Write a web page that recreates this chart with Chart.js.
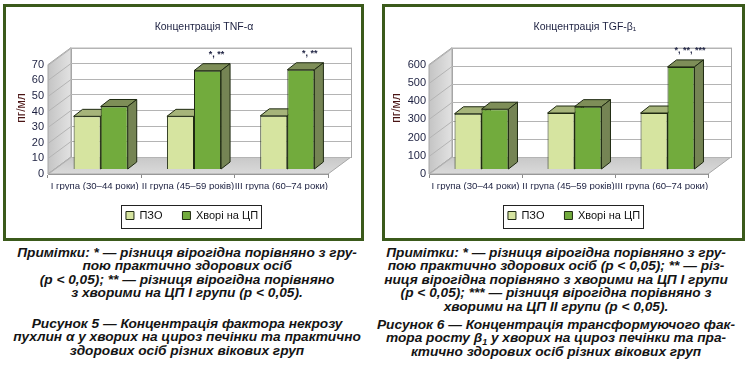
<!DOCTYPE html>
<html lang="uk">
<head>
<meta charset="UTF-8">
<title>Концентрація TNF-α та TGF-β1</title>
<script src="https://cdn.jsdelivr.net/npm/chart.js"></script>
<style>
  html, body { margin: 0; padding: 0; background: #fff; }
  body { width: 747px; height: 378px; position: relative; overflow: hidden; }
  .frame { position: absolute; border: 3px solid #3b5a1b; box-sizing: border-box; }
  #frameA { left: 3px; top: 4px; width: 361px; height: 237px; }
  #frameB { left: 382px; top: 4px; width: 363px; height: 237px; }
  canvas { position: absolute; top: 0; }
  #tnf { left: 0; }
  #tgf { left: 375px; }
  .note {
    position: absolute; margin: 0; text-align: center; color: #141414;
    font: italic bold 13.7px "Liberation Sans", Arial, sans-serif; line-height: 13.4px;
  }
  .note .sub { font-size: 9px; position: relative; top: 3px; line-height: 0; }
  #noteA { left: 8px; width: 358px; top: 246px; }
  #capA { left: 8px; width: 358px; top: 317px; }
  #noteB { left: 376px; width: 360px; top: 246px; }
  #capB { left: 376px; width: 360px; top: 318px; }
</style>
</head>
<body>

<div class="frame" id="frameA"></div>
<div class="frame" id="frameB"></div>
<canvas id="tnf" width="370" height="240"></canvas>
<canvas id="tgf" width="372" height="240"></canvas>

<p class="note" id="noteA">Примітки: * — різниця вірогідна порівняно з гру-<br>пою практично здорових осіб<br>(p &lt; 0,05); ** — різниця вірогідна порівняно<br>з хворими на ЦП I групи (p &lt; 0,05).</p>
<p class="note" id="capA">Рисунок 5 — Концентрація фактора некрозу<br>пухлин α у хворих на цироз печінки та практично<br>здорових осіб різних вікових груп</p>

<p class="note" id="noteB">Примітки: * — різниця вірогідна порівняно з гру-<br>пою практично здорових осіб (p &lt; 0,05); ** — різ-<br>ниця вірогідна порівняно з хворими на ЦП I групи<br>(p &lt; 0,05); *** — різниця вірогідна порівняно з<br>хворими на ЦП II групи (p &lt; 0,05).</p>
<p class="note" id="capB">Рисунок 6 — Концентрація трансформуючого фак-<br>тора росту β<span class="sub">1</span> у хворих на цироз печінки та пра-<br>ктично здорових осіб різних вікових груп</p>

<script>
// age groups
var groups = ['I група (30–44 роки)', 'II група (45–59 років)', 'III група (60–74 роки)'];
var seriesNames = ['ПЗО', 'Хворі на ЦП'];

// TNF-alpha, pg/ml
var tnfHealthy = [33.7, 33.7, 34];
var tnfCirrhosis = [40, 62.9, 63.5];
var tnfMarks = ['', '*, **', '*, **'];

// TGF-beta1, pg/ml
var tgfHealthy = [303, 307, 307];
var tgfCirrhosis = [328, 342, 560];
var tgfMarks = ['', '', '*, **, ***'];

var font = '"Liberation Sans", Arial, sans-serif';
var colors = {
    healthy: { front: '#d6e4a0', top: '#a6b47a', side: '#98a76c' },
    sick: { front: '#72ab3d', top: '#7e8e58', side: '#758454' },
    edge: '#1f2a12'
};

// fake 3D: walls, floor, bar tops and sides
var box3d = {
    id: 'box3d',
    afterLayout: function (chart, args, o) {
        var t = chart.titleBlock, l = chart.legend;
        var s = o.titleX - (t.left + t.right) / 2;
        t.left += s; t.right += s;
        s = o.legendX - (l.left + l.right) / 2;
        l.left += s; l.right += s;
    },
    beforeDatasetsDraw: function (chart, args, o) {
        var ctx = chart.ctx, a = chart.chartArea, y = chart.scales.y;
        var dx = o.dx, dy = o.dy;
        ctx.save();
        // side wall
        var g = ctx.createLinearGradient(a.left, 0, a.left + dx, 0);
        g.addColorStop(0, '#c4c4c4');
        g.addColorStop(1, '#e2e2e2');
        ctx.fillStyle = g;
        ctx.strokeStyle = '#a6a6a6';
        ctx.lineWidth = 1;
        ctx.beginPath();
        ctx.moveTo(a.left, a.top);
        ctx.lineTo(a.left + dx, a.top + dy);
        ctx.lineTo(a.left + dx, a.bottom + dy);
        ctx.lineTo(a.left, a.bottom);
        ctx.closePath();
        ctx.fill();
        ctx.stroke();
        // floor
        g = ctx.createLinearGradient(0, a.bottom + dy, 0, a.bottom);
        g.addColorStop(0, '#c8c8c8');
        g.addColorStop(1, '#dadada');
        ctx.fillStyle = g;
        ctx.beginPath();
        ctx.moveTo(a.left, a.bottom);
        ctx.lineTo(a.right, a.bottom);
        ctx.lineTo(a.right + dx, a.bottom + dy);
        ctx.lineTo(a.left + dx, a.bottom + dy);
        ctx.closePath();
        ctx.fill();
        ctx.stroke();
        // back wall
        ctx.fillStyle = '#fff';
        ctx.fillRect(a.left + dx, a.top + dy, a.right - a.left, a.bottom - a.top);
        ctx.strokeRect(a.left + dx + 0.5, a.top + dy + 0.5, a.right - a.left, a.bottom - a.top);
        // grid lines from the value scale
        ctx.strokeStyle = '#b4b4b4';
        y.ticks.forEach(function (t) {
            var py = Math.round(y.getPixelForValue(t.value)) + 0.5;
            ctx.beginPath();
            ctx.moveTo(a.left, py);
            ctx.lineTo(a.left + dx, py + dy);
            ctx.lineTo(a.right + dx, py + dy);
            ctx.stroke();
        });
        // bars, group by group so the 3D faces overlap right
        ctx.translate(o.barX, o.barY);
        var metas = [chart.getDatasetMeta(0), chart.getDatasetMeta(1)];
        var faces = [colors.healthy, colors.sick];
        for (var j = 0; j < metas[0].data.length; j++) {
            for (var k = 0; k < metas.length; k++) {
                var bar = metas[k].data[j];
                bar.draw(ctx, a);
                var p = bar.getProps(['x', 'y', 'base', 'width']);
                var l = p.x - p.width / 2, r = p.x + p.width / 2;
                var bx = o.depthX, by = o.depthY;
                ctx.strokeStyle = colors.edge;
                ctx.lineWidth = 1;
                ctx.fillStyle = faces[k].top;
                ctx.beginPath();
                ctx.moveTo(l, p.y);
                ctx.lineTo(l + bx, p.y + by);
                ctx.lineTo(r + bx, p.y + by);
                ctx.lineTo(r, p.y);
                ctx.closePath();
                ctx.fill();
                ctx.stroke();
                ctx.fillStyle = faces[k].side;
                ctx.beginPath();
                ctx.moveTo(r, p.y);
                ctx.lineTo(r + bx, p.y + by);
                ctx.lineTo(r + bx, p.base + by);
                ctx.lineTo(r, p.base);
                ctx.closePath();
                ctx.fill();
                ctx.stroke();
            }
        }
        ctx.restore();
        return false;
    },
    afterDraw: function (chart, args, o) {
        var ctx = chart.ctx;
        ctx.save();
        // axis title
        ctx.fillStyle = '#4a1414';
        ctx.font = '12px ' + font;
        ctx.textAlign = 'center';
        ctx.textBaseline = 'middle';
        ctx.translate(o.yTitleX, o.yTitleY);
        ctx.rotate(-Math.PI / 2);
        ctx.fillText('пг/мл', 0, 0);
        ctx.restore();
        // significance marks
        ctx.save();
        ctx.fillStyle = '#1c2040';
        ctx.font = 'bold 9px ' + font;
        ctx.textAlign = 'center';
        ctx.textBaseline = 'bottom';
        chart.getDatasetMeta(1).data.forEach(function (bar, i) {
            if (!o.marks[i]) return;
            ctx.fillText(o.marks[i], bar.x + o.barX + o.depthX, bar.y + o.barY + o.depthY - 5);
        });
        // legend frame
        var boxes = chart.legend.legendHitBoxes;
        if (boxes.length) {
            var x0 = boxes[0].left - 5, x1 = boxes[boxes.length - 1].left + boxes[boxes.length - 1].width + 3;
            var yc = boxes[0].top + boxes[0].height / 2;
            ctx.strokeStyle = '#222';
            ctx.lineWidth = 1;
            ctx.strokeRect(Math.round(x0) + 0.5, Math.round(yc - 11) + 0.5, Math.round(x1 - x0), 23);
        }
        ctx.restore();
    }
};

function makeChart(id, healthy, sick, max, step, marks, geo) {
    return new Chart(document.getElementById(id), {
        type: 'bar',
        data: {
            labels: groups,
            datasets: [
                { label: seriesNames[0], data: healthy, backgroundColor: colors.healthy.front,
                  borderColor: colors.edge, borderWidth: 1 },
                { label: seriesNames[1], data: sick, backgroundColor: colors.sick.front,
                  borderColor: colors.edge, borderWidth: 1 }
            ]
        },
        options: {
            responsive: false,
            animation: false,
            layout: { padding: { left: 0, right: geo.padRight, top: 14, bottom: 9 } },
            datasets: { bar: { barPercentage: 1, categoryPercentage: 0.58 } },
            scales: {
                x: {
                    grid: { drawOnChartArea: false, drawTicks: true, tickLength: 4, color: '#8a8a8a' },
                    border: { display: true, color: '#8a8a8a' },
                    ticks: { padding: 3, color: '#1c2040', autoSkip: false, maxRotation: 0,
                             font: { family: font, size: 9.6 } },
                    afterFit: function (s) { s.height = 16; }
                },
                y: {
                    min: 0, max: max,
                    grid: { display: false, drawTicks: false },
                    border: { display: false },
                    ticks: { stepSize: step, padding: geo.tickPad, color: '#1c2040', autoSkip: false,
                             font: { family: font, size: 11 } },
                    afterFit: function (s) { s.width = geo.yWidth; }
                }
            },
            plugins: {
                title: {
                    display: true, text: geo.title, color: '#1c2040',
                    font: { family: font, size: 10.5, weight: 'normal' },
                    padding: { top: 7, bottom: 31 }
                },
                legend: {
                    position: 'bottom',
                    labels: { boxWidth: 8, boxHeight: 8, padding: 20, color: '#111',
                              font: { family: font, size: 11 } }
                },
                tooltip: { enabled: false },
                box3d: {
                    dx: 23, dy: -17, barX: 6, barY: -5, depthX: 9, depthY: -7,
                    titleX: geo.titleX, legendX: geo.legendX,
                    yTitleX: geo.yTitleX, yTitleY: 108, marks: marks
                }
            }
        },
        plugins: [box3d]
    });
}

makeChart('tnf', tnfHealthy, tnfCirrhosis, 70, 10, tnfMarks, {
    title: 'Концентрація TNF-α', padRight: 42, yWidth: 48, tickPad: 4,
    titleX: 204, legendX: 192, yTitleX: 22
});
makeChart('tgf', tgfHealthy, tgfCirrhosis, 600, 100, tgfMarks, {
    title: 'Концентрація TGF-β₁', padRight: 39, yWidth: 54, tickPad: 3,
    titleX: 210, legendX: 199, yTitleX: 22
});
</script>
</body>
</html>
